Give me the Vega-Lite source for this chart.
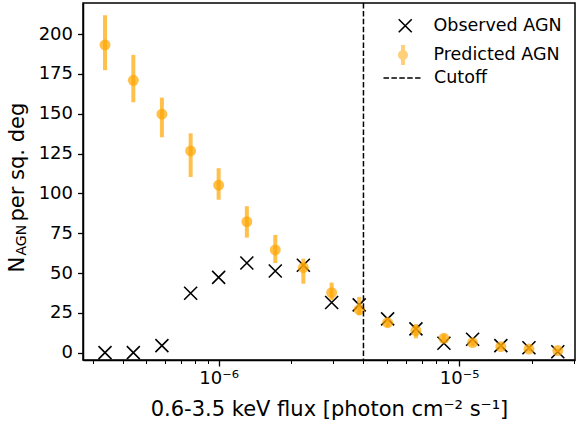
{
  "$schema": "https://vega.github.io/schema/vega-lite/v6.json",
  "width": 492,
  "height": 357,
  "autosize": {"type": "none"},
  "padding": {"left": 83, "top": 3, "right": 2, "bottom": 64},
  "background": "white",
  "config": {
    "font": "DejaVu Sans",
    "view": {"stroke": "black", "strokeWidth": 1.5},
    "axis": {
      "grid": false,
      "domainColor": "black",
      "domainWidth": 1.5,
      "tickColor": "black",
      "labelColor": "black",
      "titleColor": "black",
      "labelFont": "DejaVu Sans",
      "titleFont": "DejaVu Sans",
      "titleFontWeight": "normal",
      "labelFontSize": 18,
      "titleFontSize": 21
    },
    "legend": {
      "labelFont": "DejaVu Sans",
      "labelFontSize": 17.5,
      "labelColor": "black",
      "padding": 0,
      "orient": "none"
    }
  },
  "datasets": {
    "observed": [
      {"flux": 3.37e-7, "n": 0, "series": "Observed AGN"},
      {"flux": 4.42e-7, "n": 0, "series": "Observed AGN"},
      {"flux": 5.81e-7, "n": 4.4, "series": "Observed AGN"},
      {"flux": 7.65e-7, "n": 37.3, "series": "Observed AGN"},
      {"flux": 1.0e-6, "n": 47.3, "series": "Observed AGN"},
      {"flux": 1.31e-6, "n": 56.3, "series": "Observed AGN"},
      {"flux": 1.72e-6, "n": 51.3, "series": "Observed AGN"},
      {"flux": 2.25e-6, "n": 54.9, "series": "Observed AGN"},
      {"flux": 2.95e-6, "n": 31.5, "series": "Observed AGN"},
      {"flux": 3.84e-6, "n": 30.0, "series": "Observed AGN"},
      {"flux": 5.04e-6, "n": 21.2, "series": "Observed AGN"},
      {"flux": 6.61e-6, "n": 14.9, "series": "Observed AGN"},
      {"flux": 8.64e-6, "n": 5.9, "series": "Observed AGN"},
      {"flux": 1.137e-5, "n": 8.4, "series": "Observed AGN"},
      {"flux": 1.49e-5, "n": 4.4, "series": "Observed AGN"},
      {"flux": 1.95e-5, "n": 3.1, "series": "Observed AGN"},
      {"flux": 2.57e-5, "n": 0.6, "series": "Observed AGN"}
    ],
    "predicted": [
      {"flux": 3.37e-7, "n": 193.2, "lo": 177.3, "hi": 211.8, "series": "Predicted AGN"},
      {"flux": 4.42e-7, "n": 171.0, "lo": 157.2, "hi": 186.9, "series": "Predicted AGN"},
      {"flux": 5.81e-7, "n": 149.7, "lo": 135.2, "hi": 160.1, "series": "Predicted AGN"},
      {"flux": 7.65e-7, "n": 126.6, "lo": 110.3, "hi": 137.7, "series": "Predicted AGN"},
      {"flux": 1.0e-6, "n": 105.1, "lo": 96.0, "hi": 115.8, "series": "Predicted AGN"},
      {"flux": 1.31e-6, "n": 82.2, "lo": 72.2, "hi": 91.9, "series": "Predicted AGN"},
      {"flux": 1.72e-6, "n": 64.5, "lo": 56.3, "hi": 73.9, "series": "Predicted AGN"},
      {"flux": 2.25e-6, "n": 53.4, "lo": 43.3, "hi": 59.0, "series": "Predicted AGN"},
      {"flux": 2.95e-6, "n": 37.7, "lo": 33.0, "hi": 44.0, "series": "Predicted AGN"},
      {"flux": 3.84e-6, "n": 27.0, "lo": 23.5, "hi": 35.0, "series": "Predicted AGN"},
      {"flux": 5.04e-6, "n": 18.8, "lo": 16.0, "hi": 22.0, "series": "Predicted AGN"},
      {"flux": 6.61e-6, "n": 13.8, "lo": 9.0, "hi": 18.0, "series": "Predicted AGN"},
      {"flux": 8.64e-6, "n": 9.0, "lo": 6.5, "hi": 11.5, "series": "Predicted AGN"},
      {"flux": 1.137e-5, "n": 6.3, "lo": 4.3, "hi": 8.3, "series": "Predicted AGN"},
      {"flux": 1.49e-5, "n": 3.8, "lo": 2.3, "hi": 5.3, "series": "Predicted AGN"},
      {"flux": 1.95e-5, "n": 2.3, "lo": 0.8, "hi": 3.8, "series": "Predicted AGN"},
      {"flux": 2.57e-5, "n": 1.3, "lo": 0.3, "hi": 2.3, "series": "Predicted AGN"}
    ],
    "cutoff": [
      {"flux": 4.0e-6, "series": "Cutoff"}
    ]
  },
  "layer": [
    {
      "data": {"name": "observed"},
      "mark": {"type": "point", "filled": false, "color": "black", "strokeWidth": 1.6, "size": 169, "opacity": 1},
      "encoding": {
        "x": {
          "field": "flux",
          "type": "quantitative",
          "scale": {"type": "log", "domain": [2.73e-7, 3.03e-5], "nice": false},
          "axis": {
            "values": [3e-7, 4e-7, 5e-7, 6e-7, 7e-7, 8e-7, 9e-7, 1e-6, 2e-6, 3e-6, 4e-6, 5e-6, 6e-6, 7e-6, 8e-6, 9e-6, 1e-5, 2e-5, 3e-5],
            "labelExpr": "datum.value == 1e-6 ? '10⁻⁶' : (datum.value == 1e-5 ? '10⁻⁵' : '')",
            "tickSize": {"condition": {"test": "datum.value == 1e-6 || datum.value == 1e-5", "value": 6}, "value": 3.5},
            "tickWidth": {"condition": {"test": "datum.value == 1e-6 || datum.value == 1e-5", "value": 1.3}, "value": 1},
            "labelPadding": 3,
            "labelFlush": false,
            "labelOverlap": false,
            "title": "0.6-3.5 keV flux [photon cm⁻² s⁻¹]",
            "titleFontSize": 21,
            "titleBaseline": "alphabetic",
            "titleY": 55
          }
        },
        "y": {
          "field": "n",
          "type": "quantitative",
          "scale": {"domain": [-4.6, 219.5], "nice": false, "zero": false},
          "axis": {
            "orient": "left",
            "values": [0, 25, 50, 75, 100, 125, 150, 175, 200],
            "tickSize": 5.5,
            "tickWidth": 1.3,
            "labelPadding": 5,
            "title": "N",
            "titleFontSize": 21,
            "titleAngle": 270,
            "titleAlign": "left",
            "titleBaseline": "alphabetic",
            "titleX": -60,
            "titleY": 269
          }
        },
        "shape": {
          "field": "series",
          "type": "nominal",
          "scale": {"domain": ["Observed AGN"], "range": ["M-1,-1L1,1M-1,1L1,-1"]},
          "legend": {
            "title": null,
            "legendX": 313.5,
            "legendY": 14,
            "symbolSize": 169,
            "symbolStrokeWidth": 1.6,
            "labelOffset": 19.5
          }
        }
      }
    },
    {
      "data": {"name": "predicted"},
      "mark": {"type": "rule", "color": "orange", "opacity": 0.7, "strokeWidth": 4},
      "encoding": {
        "x": {"field": "flux", "type": "quantitative", "scale": {"type": "log", "domain": [2.73e-7, 3.03e-5], "nice": false}},
        "y": {
          "field": "lo",
          "type": "quantitative",
          "scale": {"domain": [-4.6, 219.5], "nice": false, "zero": false},
          "axis": {
            "orient": "left",
            "labels": false,
            "ticks": false,
            "domain": false,
            "grid": false,
            "title": "AGN",
            "titleFontSize": 14,
            "titleAngle": 270,
            "titleAlign": "left",
            "titleBaseline": "alphabetic",
            "titleX": -58,
            "titleY": 252
          }
        },
        "y2": {"field": "hi"}
      }
    },
    {
      "data": {"name": "predicted"},
      "mark": {"type": "point", "filled": true, "color": "orange", "opacity": 0.7, "size": 120, "shape": "circle"},
      "encoding": {
        "x": {"field": "flux", "type": "quantitative", "scale": {"type": "log", "domain": [2.73e-7, 3.03e-5], "nice": false}},
        "y": {
          "field": "n",
          "type": "quantitative",
          "scale": {"domain": [-4.6, 219.5], "nice": false, "zero": false},
          "axis": {
            "orient": "left",
            "labels": false,
            "ticks": false,
            "domain": false,
            "grid": false,
            "title": "per sq. deg",
            "titleFontSize": 21,
            "titleAngle": 270,
            "titleAlign": "left",
            "titleBaseline": "alphabetic",
            "titleX": -60,
            "titleY": 218
          }
        }
      }
    },
    {
      "data": {"name": "predicted"},
      "mark": {"type": "point", "filled": true, "color": "rgba(255,165,0,0.75)", "size": 0, "strokeWidth": 0},
      "encoding": {
        "x": {"field": "flux", "type": "quantitative", "scale": {"type": "log", "domain": [2.73e-7, 3.03e-5], "nice": false}},
        "y": {
          "field": "n",
          "type": "quantitative",
          "scale": {"domain": [-4.6, 219.5], "nice": false, "zero": false},
          "axis": null
        },
        "shape": {
          "field": "series",
          "type": "nominal",
          "scale": {"domain": ["Predicted AGN"], "range": ["M-0.2,-1H0.2V1H-0.2Z M0.5,0A0.5,0.5,0,1,1,-0.5,0A0.5,0.5,0,1,1,0.5,0Z"]},
          "legend": {
            "title": null,
            "legendX": 310,
            "legendY": 42,
            "symbolSize": 400,
            "symbolStrokeWidth": 0,
            "labelOffset": 20.5
          }
        }
      }
    },
    {
      "data": {"name": "cutoff"},
      "mark": {"type": "rule", "color": "black", "strokeWidth": 1.5},
      "encoding": {
        "x": {"field": "flux", "type": "quantitative", "scale": {"type": "log", "domain": [2.73e-7, 3.03e-5], "nice": false}},
        "strokeDash": {
          "field": "series",
          "type": "nominal",
          "scale": {"domain": ["Cutoff"], "range": [[5.5, 2.4]]},
          "legend": {
            "title": null,
            "legendX": 299.5,
            "legendY": 55.5,
            "symbolType": "stroke",
            "symbolSize": 1369,
            "symbolStrokeWidth": 1.5,
            "symbolStrokeColor": "black",
            "labelOffset": 12.5
          }
        }
      }
    }
  ],
  "resolve": {
    "scale": {"y": "independent", "shape": "independent"},
    "legend": {"shape": "independent", "strokeDash": "independent"}
  }
}
